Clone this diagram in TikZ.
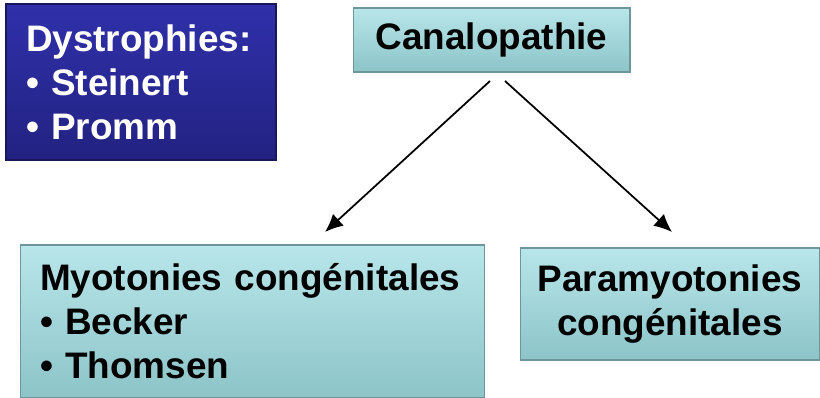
\documentclass[tikz,border=0pt]{standalone}
\usepackage{fontspec}
\setmainfont{Liberation Sans}
\usetikzlibrary{arrows.meta}
\definecolor{tealtop}{RGB}{184,230,234}
\definecolor{tealbot}{RGB}{140,196,200}
\definecolor{tealedge}{RGB}{110,150,154}
\definecolor{bluetop}{RGB}{48,48,170}
\definecolor{bluebot}{RGB}{34,34,130}
\definecolor{blueedge}{RGB}{24,24,90}
\tikzset{
  tealbox/.style={rectangle, inner sep=0pt, top color=tealtop, bottom color=tealbot,
    draw=tealedge, line width=0.6pt, font=\bfseries\fontsize{21}{25}\selectfont},
  bluebox/.style={rectangle, inner sep=0pt, top color=bluetop, bottom color=bluebot,
    draw=blueedge, line width=0.6pt, text=white, font=\bfseries\fontsize{21}{25}\selectfont},
}
\begin{document}
\begin{tikzpicture}[x=0.02cm,y=-0.02cm,>={Latex[length=0.36cm,width=0.32cm]}]
    \useasboundingbox (0,0) rectangle (820,398);
    \node[bluebox, minimum width=5.4cm, minimum height=3.12cm, text width=4.6cm, align=left]
        (dys) at (141,82) {Dystrophies:\\\textbullet\ Steinert\\\textbullet\ Promm};
    \node[tealbox, minimum width=5.54cm, minimum height=1.28cm] (canal) at (491.5,40) {Canalopathie};
    \node[tealbox, minimum width=9.3cm, minimum height=3.06cm, text width=8.5cm, align=left]
        (myo) at (252.5,321.5) {Myotonies congénitales\\\textbullet\ Becker\\\textbullet\ Thomsen};
    \node[tealbox, minimum width=6cm, minimum height=2.24cm, text width=5.6cm, align=center]
        (para) at (670,304) {Paramyotonies\\congénitales};
    \coordinate (c1) at (490,81);
    \coordinate (c2) at (505,81);
    \coordinate (m1) at (325,232);
    \coordinate (p1) at (672,232);
    \draw[->, line width=1pt] (c1)--(m1);
    \draw[->, line width=1pt] (c2)--(p1);
    \end{tikzpicture}
\end{document}
